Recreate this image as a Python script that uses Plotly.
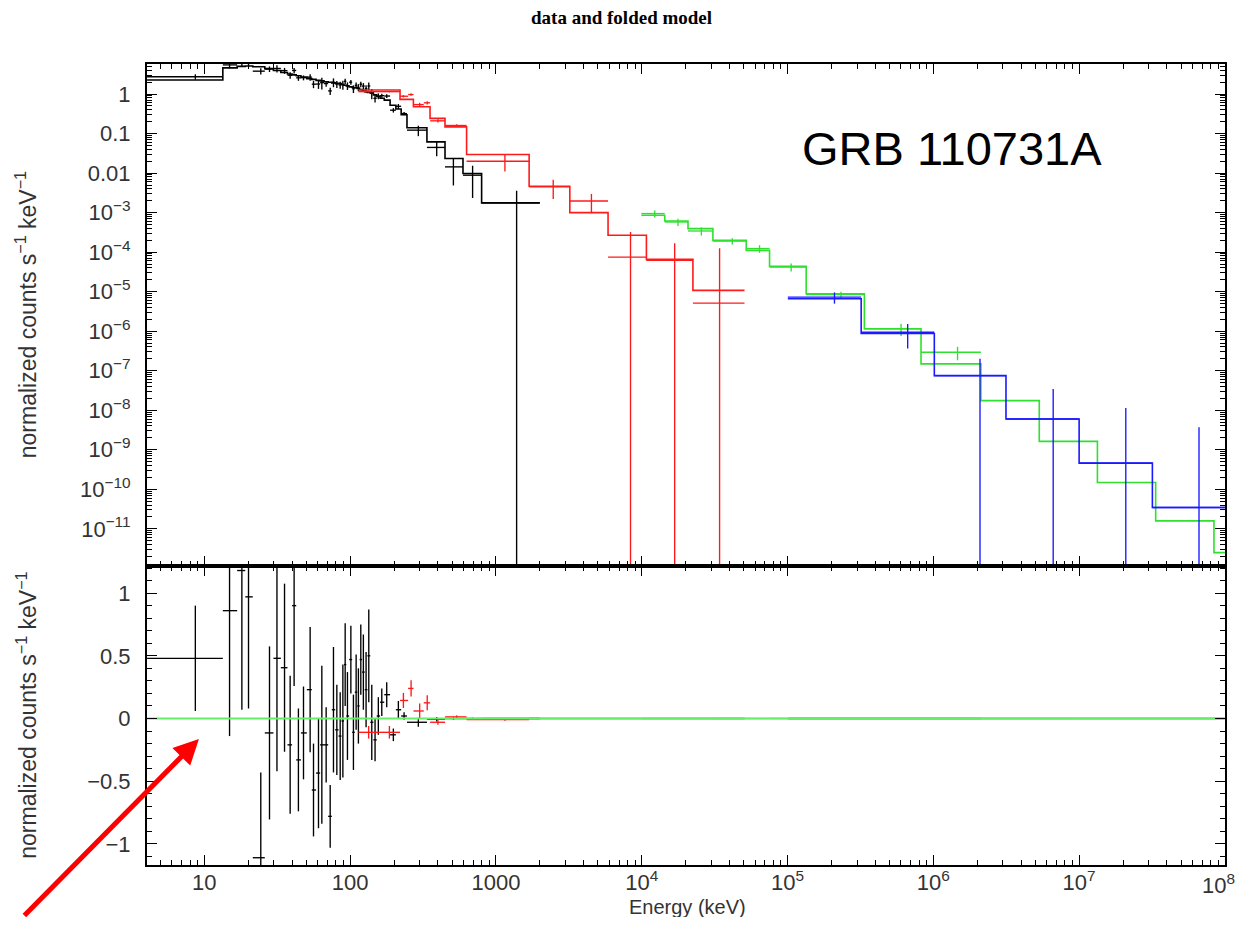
import plotly.graph_objects as go

# ---------------- data (energies in keV, values in normalized counts s^-1 keV^-1) ----------------
BLACK_E = [8.68, 14.9, 18.1, 20.1, 24.4, 28.0, 31.5, 35.5, 38.8, 41.3, 44.2, 47.9, 53.2, 56.1,
           60.7, 64.0, 68.5, 73.0, 76.9, 81.1, 85.5, 89.2, 92.5, 95.9, 101.2, 105.4, 110.0,
           114.0, 118.4, 123.3, 128.7, 134.3, 140.8, 148.3, 156.2, 164.9, 178.3, 198.0, 214.3,
           234.5, 293.8, 392.6, 511, 692, 1387]
BLACK_EDGES = [4.05, 13.4, 16.8, 19.1, 21.5, 26.0, 29.8, 33.5, 37.2, 40.0, 42.7, 46.0, 50.5, 54.6,
               58.4, 62.3, 66.2, 70.7, 74.9, 79.0, 83.3, 87.3, 90.8, 94.2, 98.5, 103.3, 107.7,
               112.0, 116.2, 120.8, 126.0, 131.5, 137.5, 144.5, 152.2, 160.5, 171.5, 188.0, 206.0,
               224.0, 245.5, 336.5, 447.6, 594.6, 798, 2000]
BLACK_MODEL = [2.26, 4.6, 5.0, 5.1, 4.9, 4.4, 3.95, 3.5, 3.2, 3.05, 2.9, 2.7, 2.45, 2.35, 2.22,
               2.15, 2.05, 1.98, 1.92, 1.88, 1.85, 1.75, 1.67, 1.6, 1.52, 1.47, 1.45, 1.38, 1.3,
               1.22, 1.15, 1.1, 1.07, 0.95, 0.87, 0.78, 0.70, 0.52, 0.42, 0.30, 0.14, 0.0618,
               0.0234, 0.00977, 0.00176]
BLACK_DATA = [2.74, 5.46, 6.18, 6.07, 3.79, 4.29, 4.43, 3.91, 2.99, 3.95, 2.57, 2.59, 2.68, 1.78,
              1.79, 1.94, 1.84, 1.20, 1.99, 1.79, 1.71, 1.73, 2.10, 1.62, 1.99, 1.36, 1.66, 1.48,
              1.77, 1.59, 1.38, 1.60, 1.04, 0.78, 0.89, 0.91, 0.89, 0.39, 0.49, 0.32, 0.122,
              0.0446, 0.01436, 0.00885, 0.00176]
BLACK_ERR = [0.42, 1.0, 1.11, 0.89, 0.68, 0.69, 0.9, 0.67, 0.55, 0.64, 0.41, 0.37, 0.5, 0.37,
             0.44, 0.63, 0.3, 0.25, 0.5, 0.36, 0.35, 0.45, 0.33, 0.35, 0.27, 0.3, 0.3, 0.3, 0.28,
             0.3, 0.3, 0.37, 0.3, 0.17, 0.15, 0.11, 0.1, 0.05, 0.07, 0.03, 0.036, 0.018, 0.0095,
             0.0065, 0.0018]
BLACK_RESID = [0.48, 0.86, 1.18, 0.97, -1.11, -0.115, 0.48, 0.405, -0.21, 0.90, -0.33, -0.115,
               0.23, -0.57, -0.435, -0.21, -0.21, -0.78, 0.07, -0.09, -0.14, -0.02, 0.43, 0.02,
               0.47, -0.11, 0.21, 0.10, 0.47, 0.37, 0.23, 0.50, -0.03, -0.17, 0.02, 0.13, 0.19,
               -0.13, 0.07, 0.02, -0.03, -0.005, 0.0, 0.0, 0.0]

RED_E = [134, 186, 232, 262, 300, 338, 400, 538, 1153, 2472, 4520, 8380, 16830, 34200]
RED_LO = [114, 158, 220, 250, 272, 320, 354, 448, 629, 1690, 3213, 5877, 10770, 22450]
RED_HI = [158, 220, 250, 272, 320, 354, 448, 629, 1690, 3213, 5877, 10770, 22450, 50700]
RED_DATA = [1.15, 1.15, 0.88, 0.97, 0.54, 0.60, 0.21, 0.16, 0.020, 0.0045, 0.00197, 7.5e-5,
            6.2e-5, 5.13e-6]
RED_ERR = [0.05, 0.05, 0.06, 0.065, 0.06, 0.06, 0.02, 0.012, 0.009, 0.0023, 0.001, 2.5e-4,
           1.05e-4, 1.2e-4]
RED_RESID = [-0.11, -0.11, 0.144, 0.24, 0.06, 0.125, -0.03, 0.013, -0.008, 0.0, 0.0, 0.0, 0.0, 0.0]
RED_MODEL_EDGES = [114, 220, 271.7, 353.4, 447.6, 629.4, 1690, 3213, 5877, 10770, 22450, 50700]
RED_MODEL = [1.26, 0.734, 0.476, 0.242, 0.148, 0.0296, 0.00466, 0.001, 2.67e-4, 6.57e-5, 1.08e-5]

GREEN_E = [12280, 17740, 25650, 41800, 64300, 105900, 232800, 601000, 1.466e6]
GREEN_LO = [9950, 14390, 20770, 30780, 52100, 75300, 134300, 336600, 823500]
GREEN_HI = [14390, 20770, 30780, 52100, 75300, 134300, 336600, 823500, 2.12e6]
GREEN_DATA = [9.46e-4, 5.79e-4, 3.43e-4, 1.91e-4, 1.23e-4, 4.19e-5, 8.5e-6, 1.15e-6, 2.94e-7]
GREEN_ERR = [1.9e-4, 1.2e-4, 8e-5, 3.5e-5, 2.7e-5, 9.5e-6, 1.5e-6, 3.9e-7, 1.1e-7]
GREEN_RESID = [0.0, 0.0, 0.0, 0.0, 0.0, 0.0, 0.0, 0.0, 0.0]
GREEN_MODEL_EDGES = [9950, 14390, 20770, 30780, 52100, 75300, 134300, 336600, 823500, 2.12e6,
                     5.33e6, 1.335e7, 3.35e7, 8.41e7, 1e8]
GREEN_MODEL = [8.57e-4, 6.14e-4, 3.94e-4, 1.99e-4, 1.11e-4, 4.37e-5, 8.87e-6, 1.15e-6, 1.49e-7,
               1.75e-8, 1.63e-9, 1.49e-10, 1.59e-11, 2.50e-12]

BLUE_E = [209900, 667000, 2.09e6, 6.64e6, 2.09e7, 6.64e7]
BLUE_MODEL_EDGES = [1.005e5, 3.2e5, 1.016e6, 3.15e6, 1e7, 3.18e7, 1e8]
BLUE_DATA = [7.28e-6, 9.44e-7, 7.53e-8, 6.02e-9, 4.61e-10, 3.46e-11]
BLUE_ERR = [2.3e-6, 5.8e-7, 1.25e-7, 2.87e-8, 1.09e-8, 3.66e-9]
BLUE_RESID = [0.0, 0.0, 0.0, 0.0, 0.0, 0.0]
BLUE_MODEL = [6.62e-6, 8.75e-7, 7.53e-8, 6.02e-9, 4.61e-10, 3.46e-11]

X_TICKS = [10, 100, 1000, 1e4, 1e5, 1e6, 1e7, 1e8]
X_TICKTEXT = ["10", "100", "1000", "10<sup>4</sup>", "10<sup>5</sup>", "10<sup>6</sup>",
              "10<sup>7</sup>", ""]          # the last label is placed separately (page edge)
X_LAST_LABEL = "10<sup>8</sup>"
Y_TICKS = [1, 0.1, 0.01, 1e-3, 1e-4, 1e-5, 1e-6, 1e-7, 1e-8, 1e-9, 1e-10, 1e-11]
Y_TICKTEXT = ["1", "0.1", "0.01", "10<sup>−3</sup>", "10<sup>−4</sup>", "10<sup>−5</sup>",
              "10<sup>−6</sup>", "10<sup>−7</sup>", "10<sup>−8</sup>", "10<sup>−9</sup>",
              "10<sup>−10</sup>", "10<sup>−11</sup>"]
R_TICKS = [-1, -0.5, 0, 0.5, 1]
R_TICKTEXT = ["−1", "−0.5", "0", "0.5", "1"]

# ---------------- styling ----------------
COL = {"black": "#000000", "red": "#ff1a1a", "green": "#2fe02f", "blue": "#1a1aff"}
LW = 1.6
FONT = "Liberation Sans, Arial, sans-serif"
TICK_SIZE = 22
LOG_FLOOR = 1e-14

# the page body has an 8px margin on every side; keep the whole page inside 1247x925
PAGE_OFF = 8
FIG_W, FIG_H = 1247 - 2 * PAGE_OFF, 925 - 2 * PAGE_OFF
PLOT_L, PLOT_R, PLOT_T, PLOT_B = 147, 1227, 64, 865   # plot-area box in screen pixels
PW, PH = PLOT_R - PLOT_L, PLOT_B - PLOT_T


def px_x(x):
    return (x - PLOT_L) / PW


def px_y(y):
    return (PLOT_B - y) / PH


def crosses(E, lo, hi, val, err, log=True):
    xs, ys = [], []
    for e, l, h, v, r in zip(E, lo, hi, val, err):
        bottom = v - r
        if log and bottom <= 0:
            bottom = LOG_FLOOR
        xs += [l, h, None, e, e, None]
        ys += [v, v, None, bottom, v + r, None]
    return xs, ys


fig = go.Figure()


def add_group(name, E, lo, hi, data, err, resid, medges, model):
    c = COL[name]
    fig.add_trace(go.Scatter(x=medges, y=list(model) + [model[-1]], mode="lines",
                             line=dict(color=c, width=LW, shape="hv"),
                             xaxis="x", yaxis="y", showlegend=False, hoverinfo="skip"))
    xs, ys = crosses(E, lo, hi, data, err, log=True)
    fig.add_trace(go.Scatter(x=xs, y=ys, mode="lines", line=dict(color=c, width=LW * 0.85),
                             xaxis="x", yaxis="y", showlegend=False, hoverinfo="skip"))
    xs, ys = crosses(E, lo, hi, resid, err, log=False)
    fig.add_trace(go.Scatter(x=xs, y=ys, mode="lines", line=dict(color=c, width=LW * 0.85),
                             xaxis="x2", yaxis="y2", showlegend=False, hoverinfo="skip"))


add_group("black", BLACK_E, BLACK_EDGES[:-1], BLACK_EDGES[1:], BLACK_DATA, BLACK_ERR,
          BLACK_RESID, BLACK_EDGES, BLACK_MODEL)
add_group("red", RED_E, RED_LO, RED_HI, RED_DATA, RED_ERR, RED_RESID, RED_MODEL_EDGES, RED_MODEL)
add_group("green", GREEN_E, GREEN_LO, GREEN_HI, GREEN_DATA, GREEN_ERR, GREEN_RESID,
          GREEN_MODEL_EDGES, GREEN_MODEL)
add_group("blue", BLUE_E, BLUE_MODEL_EDGES[:-1], BLUE_MODEL_EDGES[1:], BLUE_DATA, BLUE_ERR,
          BLUE_RESID, BLUE_MODEL_EDGES, BLUE_MODEL)

fig.add_trace(go.Scatter(x=[4.05, 1e8], y=[0, 0], mode="lines",
                         line=dict(color="#66ee66", width=2.2),
                         xaxis="x2", yaxis="y2", showlegend=False, hoverinfo="skip"))

x_minor = [k * 10 ** d for d in range(0, 8) for k in range(2, 10) if 4 <= k * 10 ** d < 1e8]
y_minor = [k * 10.0 ** d for d in range(-12, 1) for k in range(2, 10)]
r_minor = [i / 10 for i in range(-12, 13)]

split = 299 / 801

axis_common = dict(showline=True, linewidth=2, linecolor="black", mirror="allticks",
                   ticks="inside", ticklen=10, tickwidth=1.2, tickcolor="black",
                   showgrid=False, zeroline=False,
                   tickfont=dict(family=FONT, size=TICK_SIZE, color="#333333"))

X_RANGE = [0.607, 8.0005]

fig.update_layout(
    width=FIG_W, height=FIG_H,
    margin=dict(l=PLOT_L - PAGE_OFF, r=(FIG_W + PAGE_OFF) - PLOT_R, t=PLOT_T - PAGE_OFF,
                b=(FIG_H + PAGE_OFF) - PLOT_B, pad=0),
    paper_bgcolor="white", plot_bgcolor="white",
    xaxis=dict(type="log", range=X_RANGE, domain=[0, 1], anchor="y",
               tickmode="array", tickvals=X_TICKS, ticktext=X_TICKTEXT, showticklabels=False,
               minor=dict(tickmode="array", tickvals=x_minor, ticks="inside", ticklen=5,
                          tickcolor="black", showgrid=False),
               matches="x2", **axis_common),
    yaxis=dict(type="log", range=[-11.94, 0.76], domain=[split, 1], anchor="x",
               tickmode="array", tickvals=Y_TICKS, ticktext=Y_TICKTEXT, ticklabelstandoff=10,
               minor=dict(tickmode="array", tickvals=y_minor, ticks="inside", ticklen=5,
                          tickcolor="black", showgrid=False),
               **axis_common),
    xaxis2=dict(type="log", range=X_RANGE, domain=[0, 1], anchor="y2",
                tickmode="array", tickvals=X_TICKS, ticktext=X_TICKTEXT, ticklabelstandoff=-3,
                minor=dict(tickmode="array", tickvals=x_minor, ticks="inside", ticklen=5,
                           tickcolor="black", showgrid=False),
                **axis_common),
    yaxis2=dict(range=[-1.168, 1.216], domain=[0, split], anchor="x2",
                tickmode="array", tickvals=R_TICKS, ticktext=R_TICKTEXT, ticklabelstandoff=10,
                minor=dict(tickmode="array", tickvals=r_minor, ticks="inside", ticklen=5,
                           tickcolor="black", showgrid=False),
                **axis_common),
)

ytitle = "normalized counts s<sup>−1</sup> keV<sup>−1</sup>"
annotations = [
    dict(text="<b>data and folded model</b>", xref="paper", yref="paper",
         x=px_x(622), y=px_y(17), showarrow=False, xanchor="center", yanchor="middle",
         font=dict(family="Liberation Serif, Times New Roman, serif", size=19, color="black")),
    dict(text=ytitle, xref="paper", yref="paper", x=px_x(26), y=(split + 1) / 2,
         textangle=-90, showarrow=False, xanchor="center", yanchor="middle",
         font=dict(family=FONT, size=23, color="#333333")),
    dict(text=ytitle, xref="paper", yref="paper", x=px_x(26), y=split / 2,
         textangle=-90, showarrow=False, xanchor="center", yanchor="middle",
         font=dict(family=FONT, size=23, color="#333333")),
    dict(text=X_LAST_LABEL, xref="paper", yref="paper", x=1, xshift=-7, y=px_y(865),
         yanchor="top", xanchor="center", yshift=-3, showarrow=False,
         font=dict(family=FONT, size=TICK_SIZE, color="#333333")),
    dict(text="Energy (keV)", xref="paper", yref="paper", x=px_x(689), y=px_y(907),
         showarrow=False, xanchor="center", yanchor="middle",
         font=dict(family=FONT, size=20, color="#333333")),
    dict(text="GRB 110731A", xref="paper", yref="paper", x=px_x(953), y=px_y(148),
         showarrow=False, xanchor="center", yanchor="middle",
         font=dict(family=FONT, size=47, color="black")),
    dict(text="", xref="paper", yref="paper", x=px_x(199), y=px_y(739),
         showarrow=True, ax=-176, ay=196, arrowcolor="#ff0000", arrowwidth=5,
         arrowhead=2, arrowsize=1.0, standoff=0),
]
fig.update_layout(annotations=annotations)

fig.write_html("out.html")
